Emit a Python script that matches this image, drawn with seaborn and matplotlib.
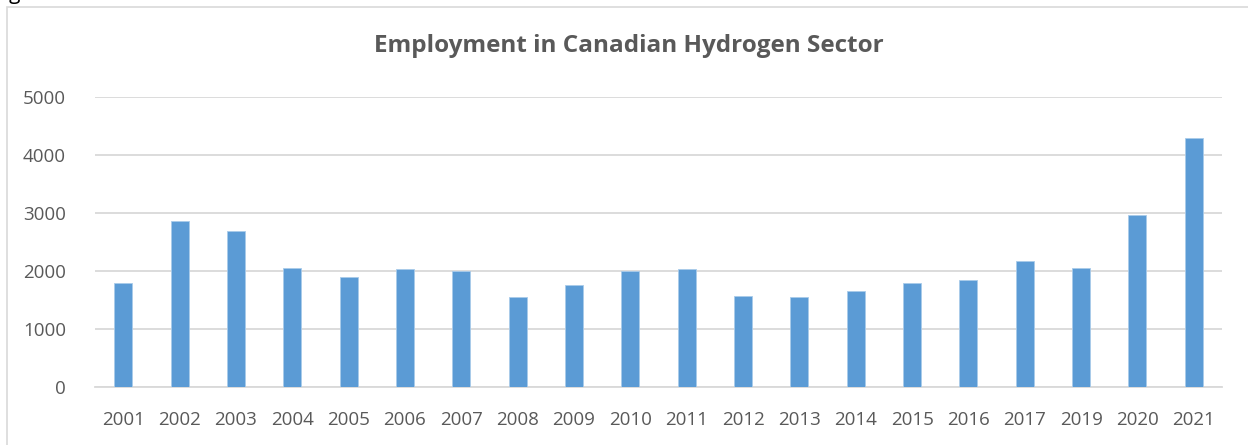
import matplotlib
matplotlib.use("Agg")
import pandas as pd
import seaborn as sns
import matplotlib.pyplot as plt
from matplotlib.patches import Rectangle

years = ["2001", "2002", "2003", "2004", "2005", "2006", "2007", "2008", "2009", "2010",
         "2011", "2012", "2013", "2014", "2015", "2016", "2017", "2019", "2020", "2021"]
employment = [1800, 2860, 2685, 2060, 1905, 2040, 2000, 1560, 1765, 1995,
              2030, 1575, 1550, 1660, 1785, 1840, 2180, 2045, 2960, 4300]
y_ticks = [0, 1000, 2000, 3000, 4000, 5000]

df = pd.DataFrame({"year": years, "employment": employment})

sns.set_style("white")
plt.rcParams["font.family"] = ["Open Sans", "DejaVu Sans"]

W, H = 1248, 445
fig = plt.figure(figsize=(W / 100, H / 100), dpi=100)
ax = fig.add_axes([95 / W, 1 - 387 / H, (1222 - 95) / W, (387 - 97) / H])

sns.barplot(data=df, x="year", y="employment", color="#5B9BD5", width=0.32,
            saturation=1, edgecolor="#A9CBEA", linewidth=0.6, ax=ax, zorder=3)

ax.set_ylim(0, 5000)
ax.set_xlim(-0.5, len(years) - 0.5)
ax.set_yticks(y_ticks)
ax.set_yticklabels([str(t) for t in y_ticks])
ax.yaxis.grid(True, color="#D9D9D9", linewidth=1.3, zorder=0)
ax.set_axisbelow(True)
for s in ["top", "right", "left"]:
    ax.spines[s].set_visible(False)
ax.spines["bottom"].set_color("#D9D9D9")
ax.spines["bottom"].set_linewidth(1.3)
ax.tick_params(axis="y", length=0, pad=21, labelsize=13.5, labelcolor="#595959")
ax.tick_params(axis="x", length=0, pad=17, labelsize=13.5, labelcolor="#595959")
ax.set_xlabel("")
ax.set_ylabel("")

fig.text(629 / W, 1 - 46 / H, "Employment in Canadian Hydrogen Sector",
         ha="center", va="center", fontsize=17.5, fontweight="bold", color="#595959")

# chart frame (cropped at right/bottom)
fig.patches.append(Rectangle((7 / W, -0.05), 1.1, 1 - 7 / H + 0.05,
                             transform=fig.transFigure, fill=False,
                             edgecolor="#D9D9D9", linewidth=1.2))
# cropped caption text above frame (only the descender shows)
fig.text(9 / W, 1 + 1 / H, "g", ha="left", va="baseline", fontsize=15, color="black")

fig.savefig("out.png", dpi=100)
